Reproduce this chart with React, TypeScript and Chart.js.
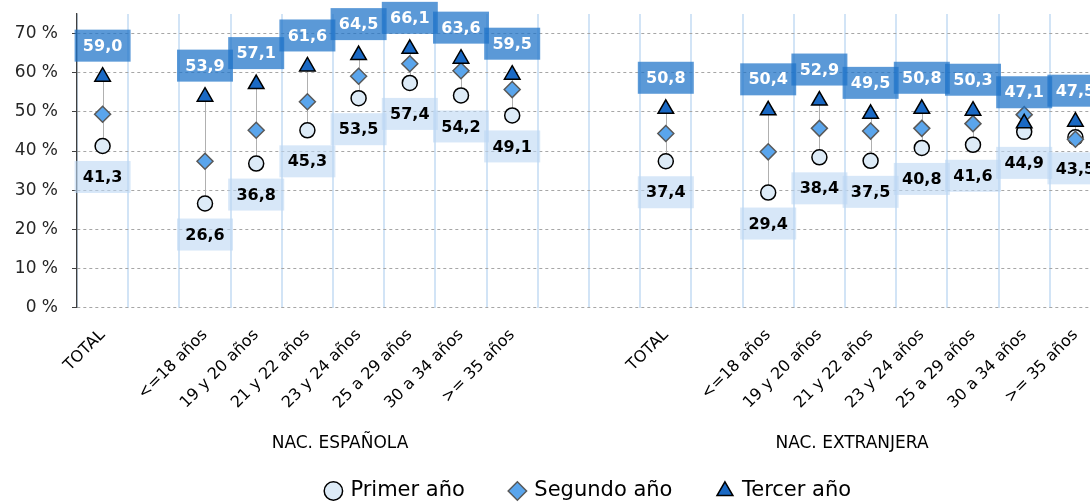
import React, { useEffect, useRef } from 'react';
import { Chart, registerables } from 'chart.js';

Chart.register(...registerables);

const categories = [
  'TOTAL', '', '<=18 años', '19 y 20 años', '21 y 22 años', '23 y 24 años', '25 a 29 años', '30 a 34 años', '>= 35 años', '',
  '', 'TOTAL', '', '<=18 años', '19 y 20 años', '21 y 22 años', '23 y 24 años', '25 a 29 años', '30 a 34 años', '>= 35 años',
];
const primerAno = [41.3, null, 26.6, 36.8, 45.3, 53.5, 57.4, 54.2, 49.1, null, null, 37.4, null, 29.4, 38.4, 37.5, 40.8, 41.6, 44.9, 43.5];
const segundoAno = [49.4, null, 37.4, 45.3, 52.6, 59.1, 62.3, 60.5, 55.7, null, null, 44.5, null, 39.8, 45.8, 45.1, 45.8, 47.0, 49.3, 43.0];
const tercerAno = [59.0, null, 53.9, 57.1, 61.6, 64.5, 66.1, 63.6, 59.5, null, null, 50.8, null, 50.4, 52.9, 49.5, 50.8, 50.3, 47.1, 47.5];
const seriesNames = ['Primer año', 'Segundo año', 'Tercer año'];
const groupNames = ['NAC. ESPAÑOLA', 'NAC. EXTRANJERA'];
const groupSpans = [[0, 9], [10, 19]];
const yTickValues = [0, 10, 20, 30, 40, 50, 60, 70];

const FONT = "'DejaVu Sans', sans-serif";
const fmt = (v: number) => v.toFixed(1).replace('.', ',');

const hiLoPlugin = {
  id: 'hiLo',
  beforeDatasetsDraw(chart: any) {
    const { ctx } = chart;
    const xs = chart.scales.x;
    const ys = chart.scales.y;
    ctx.save();
    ctx.strokeStyle = '#B0B0B0';
    ctx.lineWidth = 1;
    categories.forEach((_, i) => {
      const vals = [primerAno[i], segundoAno[i], tercerAno[i]].filter((v) => v != null) as number[];
      if (!vals.length) return;
      const px = Math.round(xs.getPixelForValue(i)) + 0.5;
      ctx.beginPath();
      ctx.moveTo(px, ys.getPixelForValue(Math.max(...vals)));
      ctx.lineTo(px, ys.getPixelForValue(Math.min(...vals)));
      ctx.stroke();
    });
    ctx.restore();
  },
};

const labelPlugin = {
  id: 'valueLabels',
  afterDatasetsDraw(chart: any) {
    const { ctx } = chart;
    const specs = [
      { ds: 0, data: primerAno, dy: 31, fill: 'rgba(189,215,243,0.6)', color: '#000000' },
      { ds: 2, data: tercerAno, dy: -31, fill: 'rgba(30,115,200,0.73)', color: '#FFFFFF' },
    ];
    ctx.save();
    ctx.font = `bold 16px ${FONT}`;
    ctx.textAlign = 'center';
    ctx.textBaseline = 'middle';
    specs.forEach((s) => {
      const meta = chart.getDatasetMeta(s.ds);
      s.data.forEach((v, i) => {
        if (v == null) return;
        const pt = meta.data[i];
        const cx = pt.x;
        const cy = pt.y + s.dy;
        ctx.fillStyle = s.fill;
        ctx.fillRect(cx - 28, cy - 16, 56, 32);
        ctx.fillStyle = s.color;
        ctx.fillText(fmt(v), cx, cy + 1);
      });
    });
    ctx.restore();
  },
};

const groupPlugin = {
  id: 'groupLabels',
  afterDraw(chart: any) {
    const { ctx, chartArea } = chart;
    const xs = chart.scales.x;
    ctx.save();
    ctx.font = `17px ${FONT}`;
    ctx.fillStyle = '#000000';
    ctx.textAlign = 'center';
    ctx.textBaseline = 'middle';
    groupNames.forEach((name, g) => {
      const [a, b] = groupSpans[g];
      const cx = (xs.getPixelForValue(a) + xs.getPixelForValue(b)) / 2 + 7;
      ctx.fillText(name, cx, chartArea.bottom + 136);
    });
    ctx.restore();
  },
};

export default function App() {
  const ref = useRef<HTMLCanvasElement>(null);

  useEffect(() => {
    if (!ref.current) return;
    const chart = new Chart(ref.current, {
      type: 'line',
      data: {
        labels: categories,
        datasets: [
          {
            label: seriesNames[0],
            data: primerAno,
            showLine: false,
            pointStyle: 'circle',
            pointRadius: 7.5,
            pointBackgroundColor: '#DDEBF7',
            pointBorderColor: '#000000',
            pointBorderWidth: 1.5,
            backgroundColor: '#DDEBF7',
            borderColor: '#000000',
            order: 3,
          },
          {
            label: seriesNames[1],
            data: segundoAno,
            showLine: false,
            pointStyle: 'rectRot',
            pointRadius: 8,
            pointBackgroundColor: '#5AA5EC',
            pointBorderColor: '#595959',
            pointBorderWidth: 1.5,
            backgroundColor: '#5AA5EC',
            borderColor: '#595959',
            order: 2,
          },
          {
            label: seriesNames[2],
            data: tercerAno,
            showLine: false,
            pointStyle: 'triangle',
            pointRadius: 9,
            pointBackgroundColor: '#1A69C4',
            pointBorderColor: '#000000',
            pointBorderWidth: 1.5,
            backgroundColor: '#1A69C4',
            borderColor: '#000000',
            order: 1,
          },
        ],
      },
      options: {
        responsive: false,
        animation: false,
        events: [],
        layout: { autoPadding: false, padding: { top: 14, left: 0, right: 3, bottom: 0 } },
        plugins: {
          tooltip: { enabled: false },
          legend: {
            position: 'bottom',
            fullSize: false,
            maxHeight: 67.5,
            labels: {
              usePointStyle: true,
              boxWidth: 13,
              boxHeight: 13,
              padding: 46,
              color: '#000000',
              font: { family: FONT, size: 21 },
              sort: (a: any, b: any) => a.datasetIndex - b.datasetIndex,
            },
          },
        },
        scales: {
          x: {
            type: 'category',
            offset: true,
            afterFit: (s: any) => {
              s.height = 126.8;
              s.paddingLeft = 0;
              s.paddingRight = 0;
            },
            grid: { offset: true, color: '#D2E4F6', lineWidth: 2, drawTicks: false },
            border: { display: false },
            ticks: {
              autoSkip: false,
              maxRotation: 45,
              minRotation: 45,
              padding: 18,
              color: '#000000',
              font: { family: FONT, size: 16 },
            },
          },
          y: {
            min: 0,
            max: 75,
            afterFit: (s: any) => {
              s.width = 77;
              s.paddingTop = 0;
              s.paddingBottom = 0;
            },
            afterBuildTicks: (s: any) => { s.ticks = yTickValues.map((v) => ({ value: v })); },
            grid: { color: '#A6A6A6', lineWidth: 1, tickColor: '#404040', tickLength: 5, tickBorderDash: [] },
            border: { display: true, color: '#404040', width: 1.3, dash: [3, 3] },
            ticks: {
              padding: 14,
              color: '#262626',
              font: { family: FONT, size: 17 },
              callback: (v: any) => `${v} %`,
            },
          },
        },
      },
      plugins: [hiLoPlugin, labelPlugin, groupPlugin],
    });
    return () => chart.destroy();
  }, []);

  return (
    <div style={{ position: 'absolute', left: 0, top: 0, width: 1090, height: 502, overflow: 'hidden', background: '#fff' }}>
      <canvas ref={ref} width={1104} height={502} style={{ display: 'block' }} />
    </div>
  );
}
